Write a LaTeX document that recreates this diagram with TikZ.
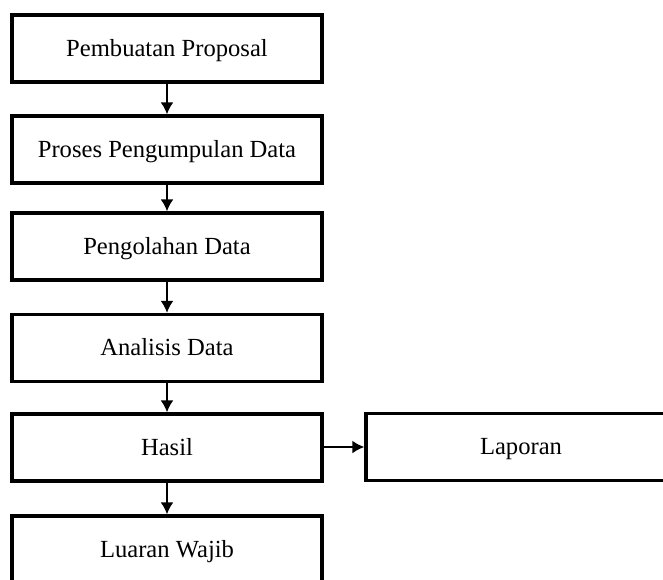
\documentclass[tikz,border=0pt]{standalone}
\usepackage{fontspec}
\setmainfont{Liberation Serif}
\usetikzlibrary{arrows.meta}
\tikzset{
  box/.style={draw, line width=1.7pt, minimum width=155pt, minimum height=33.5pt,
    inner sep=0pt, text height=0.85em, text depth=0.08em,
    font=\fontsize{12.3}{14}\selectfont},
  arr/.style={line width=1pt, -{Latex[length=6pt,width=6.5pt]}}
}
\begin{document}
\begin{tikzpicture}[x=0.5pt,y=-0.5pt]
        % Frame
        \useasboundingbox (0,0) rectangle (663,579);
        \clip (0,0) rectangle (663,579);

        % Boxes
        \node[box] (prop) at (167,48.5) {Pembuatan Proposal};
        \node[box] (kumpul) at (167,149.5) {Proses Pengumpulan Data};
        \node[box] (olah) at (167,246.5) {Pengolahan Data};
        \node[box] (analisis) at (167,348) {Analisis Data};
        \node[box] (hasil) at (167,447.5) {Hasil};
        \node[box] (luaran) at (167,549.5) {Luaran Wajib};
        \node[box] (laporan) at (521,447) {Laporan};

        % Arrows
        \draw[arr] (prop) -- (kumpul);
        \draw[arr] (kumpul) -- (olah);
        \draw[arr] (olah) -- (analisis);
        \draw[arr] (analisis) -- (hasil);
        \draw[arr] (hasil) -- (luaran);
        \draw[arr] (hasil.east |- laporan) -- (laporan);
    \end{tikzpicture}
\end{document}
